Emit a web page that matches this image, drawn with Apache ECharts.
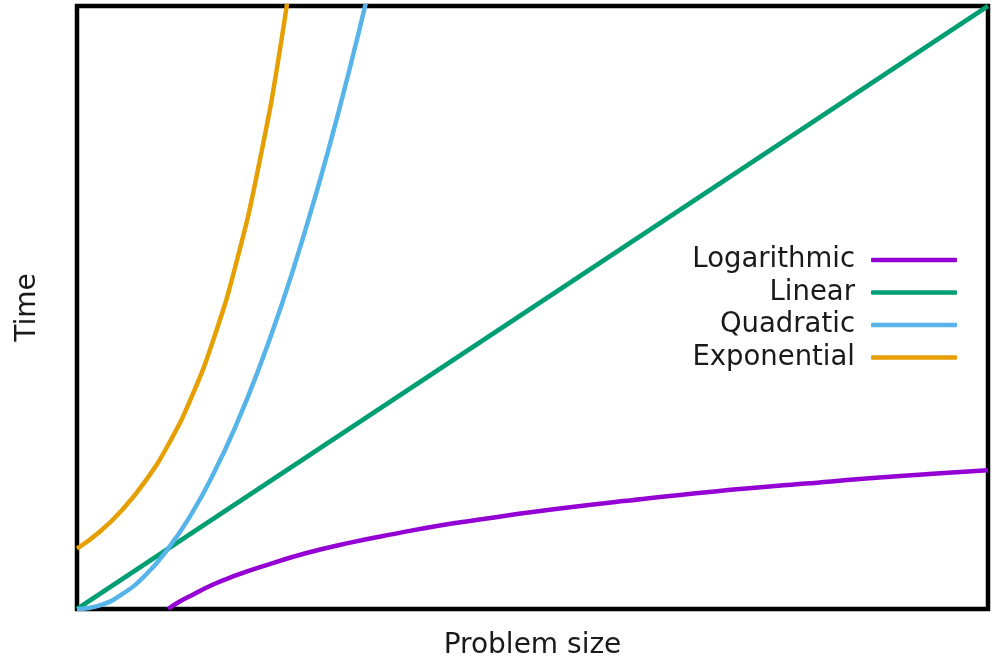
<!DOCTYPE html>
<html>
<head>
<meta charset="utf-8">
<script src="https://cdn.jsdelivr.net/npm/echarts@6/dist/echarts.min.js"></script>
<style>html,body{margin:0;padding:0;background:#fff;}#c{width:992px;height:658px;}</style>
</head>
<body>
<div id="c"></div>
<script>
// Values (x: problem size 0..10, y: time 0..10)
const seriesNames = ['Logarithmic', 'Linear', 'Quadratic', 'Exponential'];
const colors = ['#9400d3', '#009e73', '#56b4e9', '#e69f00'];

const logX = [1, 1.1, 1.25, 1.5, 1.75, 2, 2.5, 3, 3.5, 4, 4.5, 5, 6, 7, 8, 9, 10];
const logY = [0, 0.10, 0.22, 0.41, 0.56, 0.69, 0.92, 1.10, 1.25, 1.39, 1.50, 1.61, 1.79, 1.95, 2.08, 2.20, 2.30];

const linX = [0, 10];
const linY = [0, 10];

const quadX = [0, 0.25, 0.5, 0.75, 1, 1.25, 1.5, 1.75, 2, 2.25, 2.5, 2.75, 3, 3.25];
const quadY = [0, 0.06, 0.25, 0.56, 1, 1.56, 2.25, 3.06, 4, 5.06, 6.25, 7.56, 9, 10.56];

const expX = [0, 0.25, 0.5, 0.75, 1, 1.25, 1.5, 1.75, 2, 2.25, 2.5];
const expY = [1, 1.28, 1.65, 2.12, 2.72, 3.49, 4.48, 5.75, 7.39, 9.49, 12.18];

function pairs(xs, ys) { return xs.map((x, i) => [x, ys[i]]); }
const data = [pairs(logX, logY), pairs(linX, linY), pairs(quadX, quadY), pairs(expX, expY)];

const font = 'DejaVu Sans';
const chart = echarts.init(document.getElementById('c'), null, {renderer: 'canvas'});
chart.setOption({
  animation: false,
  backgroundColor: '#fff',
  grid: {left: 77, right: 4, top: 6, bottom: 49, containLabel: false, outerBoundsMode: 'none',
    show: true, borderColor: '#000', borderWidth: 4.5, backgroundColor: 'transparent'},
  xAxis: {
    type: 'value', min: 0, max: 10,
    name: 'Problem size', nameLocation: 'middle', nameGap: 23,
    nameTextStyle: {fontFamily: font, fontSize: 28, color: '#1a1a1a'},
    axisLine: {show: false}, axisTick: {show: false}, axisLabel: {show: false}, splitLine: {show: false}
  },
  yAxis: {
    type: 'value', min: 0, max: 10,
    name: 'Time', nameLocation: 'middle', nameGap: 35, nameRotate: 90,
    nameTextStyle: {fontFamily: font, fontSize: 28, color: '#1a1a1a'},
    axisLine: {show: false}, axisTick: {show: false}, axisLabel: {show: false}, splitLine: {show: false}
  },
  legend: {
    right: 30, top: 241, orient: 'vertical', align: 'right',
    itemWidth: 86, itemHeight: 4.5, itemGap: 4.5, icon: 'roundRect',
    textStyle: {fontFamily: font, fontSize: 27.5, color: '#1a1a1a', lineHeight: 27, padding: [0, 11, 0, 0]},
    data: seriesNames
  },
  series: seriesNames.map((n, i) => ({
    name: n, type: 'line', data: data[i], showSymbol: false, symbol: 'none',
    smooth: i === 1 ? false : 0.5, clip: true,
    lineStyle: {color: colors[i], width: 4.5}, itemStyle: {color: colors[i]}
  }))
});
</script>
</body>
</html>
